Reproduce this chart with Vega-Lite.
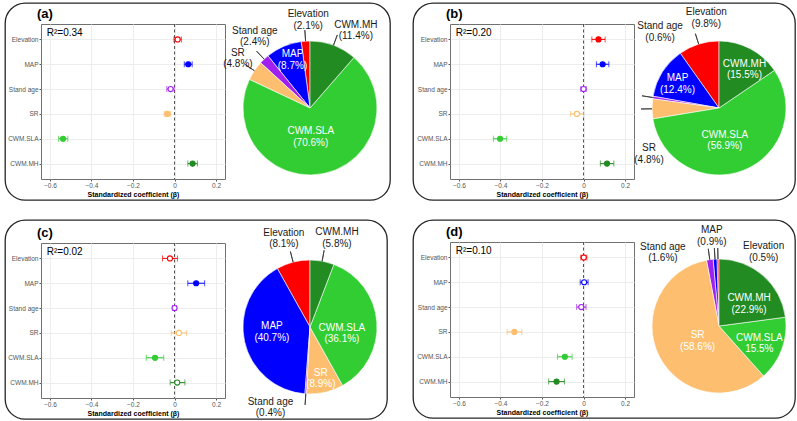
{
  "$schema": "https://vega.github.io/schema/vega-lite/v6.json",
  "padding": {"left": 4, "top": 2, "right": 0, "bottom": 0},
  "config": {"font": "Liberation Sans", "view": {"stroke": null}},
  "datasets": {
    "coef": [
      {"p": "a", "v": "Elevation", "b": 0.015, "lo": -0.003, "hi": 0.033, "sig": false, "pct": 2.1, "lab": "Elevation\n(2.1%)"},
      {"p": "a", "v": "MAP", "b": 0.066, "lo": 0.047, "hi": 0.085, "sig": true, "pct": 8.7, "lab": "MAP\n(8.7%)"},
      {"p": "a", "v": "Stand age", "b": -0.019, "lo": -0.037, "hi": -0.002, "sig": false, "pct": 2.4, "lab": "Stand age\n(2.4%)"},
      {"p": "a", "v": "SR", "b": -0.035, "lo": -0.05, "hi": -0.02, "sig": true, "pct": 4.8, "lab": "SR\n(4.8%)"},
      {"p": "a", "v": "CWM.SLA", "b": -0.537, "lo": -0.558, "hi": -0.514, "sig": true, "pct": 70.6, "lab": "CWM.SLA\n(70.6%)"},
      {"p": "a", "v": "CWM.MH", "b": 0.087, "lo": 0.064, "hi": 0.11, "sig": true, "pct": 11.4, "lab": "CWM.MH\n(11.4%)"},
      {"p": "b", "v": "Elevation", "b": 0.072, "lo": 0.04, "hi": 0.104, "sig": true, "pct": 9.8, "lab": "Elevation\n(9.8%)"},
      {"p": "b", "v": "MAP", "b": 0.092, "lo": 0.062, "hi": 0.122, "sig": true, "pct": 12.4, "lab": "MAP\n(12.4%)"},
      {"p": "b", "v": "Stand age", "b": 0.0, "lo": -0.013, "hi": 0.013, "sig": false, "pct": 0.6, "lab": "Stand age\n(0.6%)"},
      {"p": "b", "v": "SR", "b": -0.032, "lo": -0.063, "hi": 0.0, "sig": false, "pct": 4.8, "lab": "SR\n(4.8%)"},
      {"p": "b", "v": "CWM.SLA", "b": -0.402, "lo": -0.434, "hi": -0.37, "sig": true, "pct": 56.9, "lab": "CWM.SLA\n(56.9%)"},
      {"p": "b", "v": "CWM.MH", "b": 0.113, "lo": 0.081, "hi": 0.146, "sig": true, "pct": 15.5, "lab": "CWM.MH\n(15.5%)"},
      {"p": "c", "v": "Elevation", "b": -0.022, "lo": -0.058, "hi": 0.014, "sig": false, "pct": 8.1, "lab": "Elevation\n(8.1%)"},
      {"p": "c", "v": "MAP", "b": 0.104, "lo": 0.064, "hi": 0.145, "sig": true, "pct": 40.7, "lab": "MAP\n(40.7%)"},
      {"p": "c", "v": "Stand age", "b": 0.0, "lo": -0.01, "hi": 0.01, "sig": false, "pct": 0.4, "lab": "Stand age\n(0.4%)"},
      {"p": "c", "v": "SR", "b": 0.021, "lo": -0.016, "hi": 0.058, "sig": false, "pct": 8.9, "lab": "SR\n(8.9%)"},
      {"p": "c", "v": "CWM.SLA", "b": -0.094, "lo": -0.136, "hi": -0.052, "sig": true, "pct": 36.1, "lab": "CWM.SLA\n(36.1%)"},
      {"p": "c", "v": "CWM.MH", "b": 0.013, "lo": -0.021, "hi": 0.05, "sig": false, "pct": 5.8, "lab": "CWM.MH\n(5.8%)"},
      {"p": "d", "v": "Elevation", "b": 0.001, "lo": -0.013, "hi": 0.016, "sig": false, "pct": 0.5, "lab": "Elevation\n(0.5%)"},
      {"p": "d", "v": "MAP", "b": 0.003, "lo": -0.016, "hi": 0.022, "sig": false, "pct": 0.9, "lab": "MAP\n(0.9%)"},
      {"p": "d", "v": "Stand age", "b": -0.011, "lo": -0.033, "hi": 0.012, "sig": false, "pct": 1.6, "lab": "Stand age\n(1.6%)"},
      {"p": "d", "v": "SR", "b": -0.333, "lo": -0.368, "hi": -0.297, "sig": true, "pct": 58.6, "lab": "SR\n(58.6%)"},
      {"p": "d", "v": "CWM.SLA", "b": -0.09, "lo": -0.125, "hi": -0.055, "sig": true, "pct": 15.5, "lab": "CWM.SLA\n15.5%"},
      {"p": "d", "v": "CWM.MH", "b": -0.13, "lo": -0.168, "hi": -0.092, "sig": true, "pct": 22.9, "lab": "CWM.MH\n(22.9%)"}
    ],
    "ranks": [
      {"v": "CWM.MH", "k": 1}, {"v": "CWM.SLA", "k": 2}, {"v": "SR", "k": 3},
      {"v": "Stand age", "k": 4}, {"v": "MAP", "k": 5}, {"v": "Elevation", "k": 6}
    ]
  },
  "vconcat": [
    {
      "hconcat": [
        {
          "concat": [
            {"width": 385, "height": 197, "view": {"stroke": "#262626", "strokeWidth": 1.3, "cornerRadius": 20}, "data": {"values": []}, "mark": "point"},
            {
              "hconcat": [
                {"width": 35, "height": 20, "data": {"values": []}, "mark": "point"},
                {
                  "width": 184, "height": 155,
                  "view": {"stroke": "#707070", "strokeWidth": 1},
                  "title": {"text": "(a)", "anchor": "start", "frame": "group", "fontSize": 13, "fontWeight": "bold", "color": "#000000", "offset": 3, "dx": -4},
                  "layer": [
                    {"data": {"values": [{"z": 0}]}, "mark": {"type": "rule", "strokeDash": [3, 2.5], "color": "#505050", "strokeWidth": 1},
                     "encoding": {"x": {"field": "z", "type": "quantitative", "title": "Standardized coefficient (β)", "scale": {"domain": [-0.643, 0.243], "nice": false, "zero": false},
                       "axis": {"values": [-0.6, -0.5, -0.4, -0.3, -0.2, -0.1, 0, 0.1, 0.2], "labelExpr": "abs(round(datum.value * 10)) % 2 == 0 ? format(datum.value, '~g') : ''", "labelOverlap": false, "labelFlush": false, "grid": true, "gridColor": "#ebebeb", "gridWidth": {"condition": {"test": "abs(round(datum.value * 10)) % 2 == 0", "value": 0.9}, "value": 0.45}, "tickOpacity": {"condition": {"test": "abs(round(datum.value * 10)) % 2 == 0", "value": 1}, "value": 0}, "tickSize": 2, "tickColor": "#555555", "domain": false, "labelFontSize": 6.5, "labelColor": "#555555", "labelPadding": 1, "titleFontSize": 7, "titleFontWeight": "bold", "titleColor": "#000000", "titlePadding": 2}}}},
                    {"data": {"name": "coef"}, "transform": [{"filter": "datum.p == 'a'"}], "mark": {"type": "rule", "strokeWidth": 1},
                     "encoding": {"x": {"field": "lo", "type": "quantitative", "title": "Standardized coefficient (β)"}, "x2": {"field": "hi"},
                       "y": {"field": "v", "type": "nominal", "title": null, "scale": {"type": "point", "domain": ["Elevation", "MAP", "Stand age", "SR", "CWM.SLA", "CWM.MH"], "padding": 0.62},
                         "axis": {"domain": false, "tickSize": 2, "tickColor": "#555555", "labelFontSize": 6.5, "labelColor": "#555555", "labelPadding": 1, "grid": true, "gridColor": "#ebebeb", "gridWidth": 0.9}},
                       "color": {"field": "v", "type": "nominal", "legend": null, "scale": {"domain": ["Elevation", "MAP", "Stand age", "SR", "CWM.SLA", "CWM.MH"], "range": ["#FF0000", "#0000FF", "#A020F0", "#FDBF6F", "#32CD32", "#228B22"]}}}},
                    {"data": {"name": "coef"}, "transform": [{"filter": "datum.p == 'a'"}], "mark": {"type": "tick", "size": 6, "thickness": 1},
                     "encoding": {"x": {"field": "lo", "type": "quantitative", "title": "Standardized coefficient (β)"}, "y": {"field": "v", "type": "nominal", "title": null}, "color": {"field": "v", "type": "nominal", "legend": null}}},
                    {"data": {"name": "coef"}, "transform": [{"filter": "datum.p == 'a'"}], "mark": {"type": "tick", "size": 6, "thickness": 1},
                     "encoding": {"x": {"field": "hi", "type": "quantitative", "title": "Standardized coefficient (β)"}, "y": {"field": "v", "type": "nominal", "title": null}, "color": {"field": "v", "type": "nominal", "legend": null}}},
                    {"data": {"name": "coef"}, "transform": [{"filter": "datum.p == 'a'"}], "mark": {"type": "point", "shape": "circle", "size": 26, "strokeWidth": 1.1, "opacity": 1},
                     "encoding": {"x": {"field": "b", "type": "quantitative", "title": "Standardized coefficient (β)"}, "y": {"field": "v", "type": "nominal", "title": null},
                       "stroke": {"field": "v", "type": "nominal", "legend": null, "scale": {"domain": ["Elevation", "MAP", "Stand age", "SR", "CWM.SLA", "CWM.MH"], "range": ["#FF0000", "#0000FF", "#A020F0", "#FDBF6F", "#32CD32", "#228B22"]}},
                       "fill": {"condition": {"test": "datum.sig", "field": "v", "type": "nominal", "legend": null, "scale": {"domain": ["Elevation", "MAP", "Stand age", "SR", "CWM.SLA", "CWM.MH"], "range": ["#FF0000", "#0000FF", "#A020F0", "#FDBF6F", "#32CD32", "#228B22"]}}, "value": "#ffffff"}}},
                    {"data": {"values": [{"t": "R²=0.34"}]}, "mark": {"type": "text", "align": "left", "baseline": "middle", "fontSize": 10, "dy": -6, "color": "#000000"},
                     "encoding": {"x": {"datum": -0.615, "type": "quantitative"}, "y": {"datum": "Elevation", "type": "nominal"}, "text": {"field": "t", "type": "nominal"}}}
                  ]
                },
                {
                  "width": 168, "height": 168,
                  "data": {"name": "coef"},
                  "transform": [
                    {"filter": "datum.p == 'a'"},
                    {"lookup": "v", "from": {"data": {"name": "ranks"}, "key": "v", "fields": ["k"]}},
                    {"stack": "pct", "groupby": [], "sort": [{"field": "k", "order": "ascending"}], "as": ["t0", "t1"]}
                  ],
                  "layer": [
                    {"mark": {"type": "arc", "radius": 67, "stroke": "#ffffff", "strokeWidth": 0.6},
                     "encoding": {"theta": {"field": "t0", "type": "quantitative", "stack": null, "scale": {"domain": [0, 100]}}, "theta2": {"field": "t1"}, "color": {"field": "v", "type": "nominal", "legend": null}}},
                    {"transform": [{"filter": "indexof(['CWM.MH', 'Elevation', 'Stand age', 'SR'], datum.v) >= 0"}, {"fold": ["t0", "t1"], "as": ["edge", "ang"]}, {"aggregate": [{"op": "mean", "field": "ang", "as": "tm"}], "groupby": ["v"]}],
                     "mark": {"type": "arc", "innerRadius": 67, "outerRadius": 78, "filled": false, "stroke": "#333333", "strokeWidth": 0.8},
                     "encoding": {"theta": {"field": "tm", "type": "quantitative", "stack": null}, "theta2": {"field": "tm"}}},
                    {"transform": [{"filter": "datum.v == 'CWM.MH'"}, {"fold": ["t0", "t1"], "as": ["edge", "ang"]}, {"aggregate": [{"op": "mean", "field": "ang", "as": "tm"}], "groupby": ["lab"]}],
                     "mark": {"type": "text", "radius": 88, "dx": 15, "dy": -1, "fontSize": 10, "lineHeight": 11.5, "lineBreak": "\n", "color": "#1a1a1a"},
                     "encoding": {"theta": {"field": "tm", "type": "quantitative", "stack": null}, "text": {"field": "lab", "type": "nominal"}}},
                    {"transform": [{"filter": "datum.v == 'Elevation'"}, {"fold": ["t0", "t1"], "as": ["edge", "ang"]}, {"aggregate": [{"op": "mean", "field": "ang", "as": "tm"}], "groupby": ["lab"]}],
                     "mark": {"type": "text", "radius": 88, "dx": 4, "dy": -6, "fontSize": 10, "lineHeight": 11.5, "lineBreak": "\n", "color": "#1a1a1a"},
                     "encoding": {"theta": {"field": "tm", "type": "quantitative", "stack": null}, "text": {"field": "lab", "type": "nominal"}}},
                    {"transform": [{"filter": "datum.v == 'Stand age'"}, {"fold": ["t0", "t1"], "as": ["edge", "ang"]}, {"aggregate": [{"op": "mean", "field": "ang", "as": "tm"}], "groupby": ["lab"]}],
                     "mark": {"type": "text", "radius": 88, "dx": 5, "dy": -13, "fontSize": 10, "lineHeight": 11.5, "lineBreak": "\n", "color": "#1a1a1a"},
                     "encoding": {"theta": {"field": "tm", "type": "quantitative", "stack": null}, "text": {"field": "lab", "type": "nominal"}}},
                    {"transform": [{"filter": "datum.v == 'SR'"}, {"fold": ["t0", "t1"], "as": ["edge", "ang"]}, {"aggregate": [{"op": "mean", "field": "ang", "as": "tm"}], "groupby": ["lab"]}],
                     "mark": {"type": "text", "radius": 88, "dx": 1, "dy": -6, "fontSize": 10, "lineHeight": 11.5, "lineBreak": "\n", "color": "#1a1a1a"},
                     "encoding": {"theta": {"field": "tm", "type": "quantitative", "stack": null}, "text": {"field": "lab", "type": "nominal"}}},
                    {"transform": [{"filter": "datum.v == 'MAP'"}, {"fold": ["t0", "t1"], "as": ["edge", "ang"]}, {"aggregate": [{"op": "mean", "field": "ang", "as": "tm"}], "groupby": ["lab"]}],
                     "mark": {"type": "text", "radius": 52, "dx": 3, "dy": -6, "fontSize": 10, "lineHeight": 11.5, "lineBreak": "\n", "color": "#ffffff"},
                     "encoding": {"theta": {"field": "tm", "type": "quantitative", "stack": null}, "text": {"field": "lab", "type": "nominal"}}},
                    {"transform": [{"filter": "datum.v == 'CWM.SLA'"}, {"fold": ["t0", "t1"], "as": ["edge", "ang"]}, {"aggregate": [{"op": "mean", "field": "ang", "as": "tm"}], "groupby": ["lab"]}],
                     "mark": {"type": "text", "radius": 28, "dx": -5, "dy": -4, "fontSize": 10, "lineHeight": 11.5, "lineBreak": "\n", "color": "#ffffff"},
                     "encoding": {"theta": {"field": "tm", "type": "quantitative", "stack": null}, "text": {"field": "lab", "type": "nominal"}}}
                  ]
                }
              ],
              "spacing": 1, "bounds": "flush"
            }
          ],
          "columns": 1, "align": "none", "spacing": -176, "bounds": "flush"
        },
        {
          "concat": [
            {"width": 382, "height": 197, "view": {"stroke": "#262626", "strokeWidth": 1.3, "cornerRadius": 20}, "data": {"values": []}, "mark": "point"},
            {
              "hconcat": [
                {"width": 36, "height": 20, "data": {"values": []}, "mark": "point"},
                {
                  "width": 184, "height": 155,
                  "view": {"stroke": "#707070", "strokeWidth": 1},
                  "title": {"text": "(b)", "anchor": "start", "frame": "group", "fontSize": 13, "fontWeight": "bold", "color": "#000000", "offset": 3, "dx": -4},
                  "layer": [
                    {"data": {"values": [{"z": 0}]}, "mark": {"type": "rule", "strokeDash": [3, 2.5], "color": "#505050", "strokeWidth": 1},
                     "encoding": {"x": {"field": "z", "type": "quantitative", "title": "Standardized coefficient (β)", "scale": {"domain": [-0.643, 0.243], "nice": false, "zero": false},
                       "axis": {"values": [-0.6, -0.5, -0.4, -0.3, -0.2, -0.1, 0, 0.1, 0.2], "labelExpr": "abs(round(datum.value * 10)) % 2 == 0 ? format(datum.value, '~g') : ''", "labelOverlap": false, "labelFlush": false, "grid": true, "gridColor": "#ebebeb", "gridWidth": {"condition": {"test": "abs(round(datum.value * 10)) % 2 == 0", "value": 0.9}, "value": 0.45}, "tickOpacity": {"condition": {"test": "abs(round(datum.value * 10)) % 2 == 0", "value": 1}, "value": 0}, "tickSize": 2, "tickColor": "#555555", "domain": false, "labelFontSize": 6.5, "labelColor": "#555555", "labelPadding": 1, "titleFontSize": 7, "titleFontWeight": "bold", "titleColor": "#000000", "titlePadding": 2}}}},
                    {"data": {"name": "coef"}, "transform": [{"filter": "datum.p == 'b'"}], "mark": {"type": "rule", "strokeWidth": 1},
                     "encoding": {"x": {"field": "lo", "type": "quantitative", "title": "Standardized coefficient (β)"}, "x2": {"field": "hi"},
                       "y": {"field": "v", "type": "nominal", "title": null, "scale": {"type": "point", "domain": ["Elevation", "MAP", "Stand age", "SR", "CWM.SLA", "CWM.MH"], "padding": 0.62},
                         "axis": {"domain": false, "tickSize": 2, "tickColor": "#555555", "labelFontSize": 6.5, "labelColor": "#555555", "labelPadding": 1, "grid": true, "gridColor": "#ebebeb", "gridWidth": 0.9}},
                       "color": {"field": "v", "type": "nominal", "legend": null}}},
                    {"data": {"name": "coef"}, "transform": [{"filter": "datum.p == 'b'"}], "mark": {"type": "tick", "size": 6, "thickness": 1},
                     "encoding": {"x": {"field": "lo", "type": "quantitative", "title": "Standardized coefficient (β)"}, "y": {"field": "v", "type": "nominal", "title": null}, "color": {"field": "v", "type": "nominal", "legend": null}}},
                    {"data": {"name": "coef"}, "transform": [{"filter": "datum.p == 'b'"}], "mark": {"type": "tick", "size": 6, "thickness": 1},
                     "encoding": {"x": {"field": "hi", "type": "quantitative", "title": "Standardized coefficient (β)"}, "y": {"field": "v", "type": "nominal", "title": null}, "color": {"field": "v", "type": "nominal", "legend": null}}},
                    {"data": {"name": "coef"}, "transform": [{"filter": "datum.p == 'b'"}], "mark": {"type": "point", "shape": "circle", "size": 26, "strokeWidth": 1.1, "opacity": 1},
                     "encoding": {"x": {"field": "b", "type": "quantitative", "title": "Standardized coefficient (β)"}, "y": {"field": "v", "type": "nominal", "title": null},
                       "stroke": {"field": "v", "type": "nominal", "legend": null},
                       "fill": {"condition": {"test": "datum.sig", "field": "v", "type": "nominal", "legend": null}, "value": "#ffffff"}}},
                    {"data": {"values": [{"t": "R²=0.20"}]}, "mark": {"type": "text", "align": "left", "baseline": "middle", "fontSize": 10, "dy": -6, "color": "#000000"},
                     "encoding": {"x": {"datum": -0.615, "type": "quantitative"}, "y": {"datum": "Elevation", "type": "nominal"}, "text": {"field": "t", "type": "nominal"}}}
                  ]
                },
                {
                  "width": 168, "height": 168,
                  "data": {"name": "coef"},
                  "transform": [
                    {"filter": "datum.p == 'b'"},
                    {"lookup": "v", "from": {"data": {"name": "ranks"}, "key": "v", "fields": ["k"]}},
                    {"stack": "pct", "groupby": [], "sort": [{"field": "k", "order": "ascending"}], "as": ["t0", "t1"]}
                  ],
                  "layer": [
                    {"mark": {"type": "arc", "radius": 67, "stroke": "#ffffff", "strokeWidth": 0.6},
                     "encoding": {"theta": {"field": "t0", "type": "quantitative", "stack": null, "scale": {"domain": [0, 100]}}, "theta2": {"field": "t1"}, "color": {"field": "v", "type": "nominal", "legend": null}}},
                    {"transform": [{"filter": "indexof(['Elevation', 'Stand age', 'SR'], datum.v) >= 0"}, {"fold": ["t0", "t1"], "as": ["edge", "ang"]}, {"aggregate": [{"op": "mean", "field": "ang", "as": "tm"}], "groupby": ["v"]}],
                     "mark": {"type": "arc", "innerRadius": 67, "outerRadius": 78, "filled": false, "stroke": "#333333", "strokeWidth": 0.8},
                     "encoding": {"theta": {"field": "tm", "type": "quantitative", "stack": null}, "theta2": {"field": "tm"}}},
                    {"transform": [{"filter": "datum.v == 'Elevation'"}, {"fold": ["t0", "t1"], "as": ["edge", "ang"]}, {"aggregate": [{"op": "mean", "field": "ang", "as": "tm"}], "groupby": ["lab"]}],
                     "mark": {"type": "text", "radius": 88, "dx": 14, "dy": -12, "fontSize": 10, "lineHeight": 11.5, "lineBreak": "\n", "color": "#1a1a1a"},
                     "encoding": {"theta": {"field": "tm", "type": "quantitative", "stack": null}, "text": {"field": "lab", "type": "nominal"}}},
                    {"transform": [{"filter": "datum.v == 'Stand age'"}, {"fold": ["t0", "t1"], "as": ["edge", "ang"]}, {"aggregate": [{"op": "mean", "field": "ang", "as": "tm"}], "groupby": ["lab"]}],
                     "mark": {"type": "text", "radius": 88, "dx": 28, "dy": -68, "fontSize": 10, "lineHeight": 11.5, "lineBreak": "\n", "color": "#1a1a1a"},
                     "encoding": {"theta": {"field": "tm", "type": "quantitative", "stack": null}, "text": {"field": "lab", "type": "nominal"}}},
                    {"transform": [{"filter": "datum.v == 'SR'"}, {"fold": ["t0", "t1"], "as": ["edge", "ang"]}, {"aggregate": [{"op": "mean", "field": "ang", "as": "tm"}], "groupby": ["lab"]}],
                     "mark": {"type": "text", "radius": 88, "dx": 18, "dy": 39, "fontSize": 10, "lineHeight": 11.5, "lineBreak": "\n", "color": "#1a1a1a"},
                     "encoding": {"theta": {"field": "tm", "type": "quantitative", "stack": null}, "text": {"field": "lab", "type": "nominal"}}},
                    {"transform": [{"filter": "datum.v == 'MAP'"}, {"fold": ["t0", "t1"], "as": ["edge", "ang"]}, {"aggregate": [{"op": "mean", "field": "ang", "as": "tm"}], "groupby": ["lab"]}],
                     "mark": {"type": "text", "radius": 48, "dx": -1, "dy": -4, "fontSize": 10, "lineHeight": 11.5, "lineBreak": "\n", "color": "#ffffff"},
                     "encoding": {"theta": {"field": "tm", "type": "quantitative", "stack": null}, "text": {"field": "lab", "type": "nominal"}}},
                    {"transform": [{"filter": "datum.v == 'CWM.MH'"}, {"fold": ["t0", "t1"], "as": ["edge", "ang"]}, {"aggregate": [{"op": "mean", "field": "ang", "as": "tm"}], "groupby": ["lab"]}],
                     "mark": {"type": "text", "radius": 48, "dx": 3, "dy": -2, "fontSize": 10, "lineHeight": 11.5, "lineBreak": "\n", "color": "#ffffff"},
                     "encoding": {"theta": {"field": "tm", "type": "quantitative", "stack": null}, "text": {"field": "lab", "type": "nominal"}}},
                    {"transform": [{"filter": "datum.v == 'CWM.SLA'"}, {"fold": ["t0", "t1"], "as": ["edge", "ang"]}, {"aggregate": [{"op": "mean", "field": "ang", "as": "tm"}], "groupby": ["lab"]}],
                     "mark": {"type": "text", "radius": 32, "dx": -6, "dy": -3, "fontSize": 10, "lineHeight": 11.5, "lineBreak": "\n", "color": "#ffffff"},
                     "encoding": {"theta": {"field": "tm", "type": "quantitative", "stack": null}, "text": {"field": "lab", "type": "nominal"}}}
                  ]
                }
              ],
              "spacing": 1, "bounds": "flush"
            }
          ],
          "columns": 1, "align": "none", "spacing": -176, "bounds": "flush"
        }
      ],
      "spacing": 18
    },
    {
      "hconcat": [
        {
          "concat": [
            {"width": 382, "height": 199, "view": {"stroke": "#262626", "strokeWidth": 1.3, "cornerRadius": 20}, "data": {"values": []}, "mark": "point"},
            {
              "hconcat": [
                {"width": 35, "height": 20, "data": {"values": []}, "mark": "point"},
                {
                  "width": 184, "height": 155,
                  "view": {"stroke": "#707070", "strokeWidth": 1},
                  "title": {"text": "(c)", "anchor": "start", "frame": "group", "fontSize": 13, "fontWeight": "bold", "color": "#000000", "offset": 3, "dx": -4},
                  "layer": [
                    {"data": {"values": [{"z": 0}]}, "mark": {"type": "rule", "strokeDash": [3, 2.5], "color": "#505050", "strokeWidth": 1},
                     "encoding": {"x": {"field": "z", "type": "quantitative", "title": "Standardized coefficient (β)", "scale": {"domain": [-0.643, 0.243], "nice": false, "zero": false},
                       "axis": {"values": [-0.6, -0.5, -0.4, -0.3, -0.2, -0.1, 0, 0.1, 0.2], "labelExpr": "abs(round(datum.value * 10)) % 2 == 0 ? format(datum.value, '~g') : ''", "labelOverlap": false, "labelFlush": false, "grid": true, "gridColor": "#ebebeb", "gridWidth": {"condition": {"test": "abs(round(datum.value * 10)) % 2 == 0", "value": 0.9}, "value": 0.45}, "tickOpacity": {"condition": {"test": "abs(round(datum.value * 10)) % 2 == 0", "value": 1}, "value": 0}, "tickSize": 2, "tickColor": "#555555", "domain": false, "labelFontSize": 6.5, "labelColor": "#555555", "labelPadding": 1, "titleFontSize": 7, "titleFontWeight": "bold", "titleColor": "#000000", "titlePadding": 2}}}},
                    {"data": {"name": "coef"}, "transform": [{"filter": "datum.p == 'c'"}], "mark": {"type": "rule", "strokeWidth": 1},
                     "encoding": {"x": {"field": "lo", "type": "quantitative", "title": "Standardized coefficient (β)"}, "x2": {"field": "hi"},
                       "y": {"field": "v", "type": "nominal", "title": null, "scale": {"type": "point", "domain": ["Elevation", "MAP", "Stand age", "SR", "CWM.SLA", "CWM.MH"], "padding": 0.62},
                         "axis": {"domain": false, "tickSize": 2, "tickColor": "#555555", "labelFontSize": 6.5, "labelColor": "#555555", "labelPadding": 1, "grid": true, "gridColor": "#ebebeb", "gridWidth": 0.9}},
                       "color": {"field": "v", "type": "nominal", "legend": null}}},
                    {"data": {"name": "coef"}, "transform": [{"filter": "datum.p == 'c'"}], "mark": {"type": "tick", "size": 6, "thickness": 1},
                     "encoding": {"x": {"field": "lo", "type": "quantitative", "title": "Standardized coefficient (β)"}, "y": {"field": "v", "type": "nominal", "title": null}, "color": {"field": "v", "type": "nominal", "legend": null}}},
                    {"data": {"name": "coef"}, "transform": [{"filter": "datum.p == 'c'"}], "mark": {"type": "tick", "size": 6, "thickness": 1},
                     "encoding": {"x": {"field": "hi", "type": "quantitative", "title": "Standardized coefficient (β)"}, "y": {"field": "v", "type": "nominal", "title": null}, "color": {"field": "v", "type": "nominal", "legend": null}}},
                    {"data": {"name": "coef"}, "transform": [{"filter": "datum.p == 'c'"}], "mark": {"type": "point", "shape": "circle", "size": 26, "strokeWidth": 1.1, "opacity": 1},
                     "encoding": {"x": {"field": "b", "type": "quantitative", "title": "Standardized coefficient (β)"}, "y": {"field": "v", "type": "nominal", "title": null},
                       "stroke": {"field": "v", "type": "nominal", "legend": null},
                       "fill": {"condition": {"test": "datum.sig", "field": "v", "type": "nominal", "legend": null}, "value": "#ffffff"}}},
                    {"data": {"values": [{"t": "R²=0.02"}]}, "mark": {"type": "text", "align": "left", "baseline": "middle", "fontSize": 10, "dy": -6, "color": "#000000"},
                     "encoding": {"x": {"datum": -0.615, "type": "quantitative"}, "y": {"datum": "Elevation", "type": "nominal"}, "text": {"field": "t", "type": "nominal"}}}
                  ]
                },
                {
                  "width": 168, "height": 168,
                  "data": {"name": "coef"},
                  "transform": [
                    {"filter": "datum.p == 'c'"},
                    {"lookup": "v", "from": {"data": {"name": "ranks"}, "key": "v", "fields": ["k"]}},
                    {"stack": "pct", "groupby": [], "sort": [{"field": "k", "order": "ascending"}], "as": ["t0", "t1"]}
                  ],
                  "layer": [
                    {"mark": {"type": "arc", "radius": 67, "stroke": "#ffffff", "strokeWidth": 0.6},
                     "encoding": {"theta": {"field": "t0", "type": "quantitative", "stack": null, "scale": {"domain": [0, 100]}}, "theta2": {"field": "t1"}, "color": {"field": "v", "type": "nominal", "legend": null}}},
                    {"transform": [{"filter": "indexof(['CWM.MH', 'Elevation', 'Stand age'], datum.v) >= 0"}, {"fold": ["t0", "t1"], "as": ["edge", "ang"]}, {"aggregate": [{"op": "mean", "field": "ang", "as": "tm"}], "groupby": ["v"]}],
                     "mark": {"type": "arc", "innerRadius": 67, "outerRadius": 78, "filled": false, "stroke": "#333333", "strokeWidth": 0.8},
                     "encoding": {"theta": {"field": "tm", "type": "quantitative", "stack": null}, "theta2": {"field": "tm"}}},
                    {"transform": [{"filter": "datum.v == 'CWM.MH'"}, {"fold": ["t0", "t1"], "as": ["edge", "ang"]}, {"aggregate": [{"op": "mean", "field": "ang", "as": "tm"}], "groupby": ["lab"]}],
                     "mark": {"type": "text", "radius": 88, "dx": 11, "dy": -8, "fontSize": 10, "lineHeight": 11.5, "lineBreak": "\n", "color": "#1a1a1a"},
                     "encoding": {"theta": {"field": "tm", "type": "quantitative", "stack": null}, "text": {"field": "lab", "type": "nominal"}}},
                    {"transform": [{"filter": "datum.v == 'Elevation'"}, {"fold": ["t0", "t1"], "as": ["edge", "ang"]}, {"aggregate": [{"op": "mean", "field": "ang", "as": "tm"}], "groupby": ["lab"]}],
                     "mark": {"type": "text", "radius": 88, "dx": -4, "dy": -9, "fontSize": 10, "lineHeight": 11.5, "lineBreak": "\n", "color": "#1a1a1a"},
                     "encoding": {"theta": {"field": "tm", "type": "quantitative", "stack": null}, "text": {"field": "lab", "type": "nominal"}}},
                    {"transform": [{"filter": "datum.v == 'Stand age'"}, {"fold": ["t0", "t1"], "as": ["edge", "ang"]}, {"aggregate": [{"op": "mean", "field": "ang", "as": "tm"}], "groupby": ["lab"]}],
                     "mark": {"type": "text", "radius": 88, "dx": -34, "dy": -13, "fontSize": 10, "lineHeight": 11.5, "lineBreak": "\n", "color": "#1a1a1a"},
                     "encoding": {"theta": {"field": "tm", "type": "quantitative", "stack": null}, "text": {"field": "lab", "type": "nominal"}}},
                    {"transform": [{"filter": "datum.v == 'MAP'"}, {"fold": ["t0", "t1"], "as": ["edge", "ang"]}, {"aggregate": [{"op": "mean", "field": "ang", "as": "tm"}], "groupby": ["lab"]}],
                     "mark": {"type": "text", "radius": 38, "dx": -1, "dy": -9, "fontSize": 10, "lineHeight": 11.5, "lineBreak": "\n", "color": "#ffffff"},
                     "encoding": {"theta": {"field": "tm", "type": "quantitative", "stack": null}, "text": {"field": "lab", "type": "nominal"}}},
                    {"transform": [{"filter": "datum.v == 'CWM.SLA'"}, {"fold": ["t0", "t1"], "as": ["edge", "ang"]}, {"aggregate": [{"op": "mean", "field": "ang", "as": "tm"}], "groupby": ["lab"]}],
                     "mark": {"type": "text", "radius": 33, "dx": -1, "dy": 3, "fontSize": 10, "lineHeight": 11.5, "lineBreak": "\n", "color": "#ffffff"},
                     "encoding": {"theta": {"field": "tm", "type": "quantitative", "stack": null}, "text": {"field": "lab", "type": "nominal"}}},
                    {"transform": [{"filter": "datum.v == 'SR'"}, {"fold": ["t0", "t1"], "as": ["edge", "ang"]}, {"aggregate": [{"op": "mean", "field": "ang", "as": "tm"}], "groupby": ["lab"]}],
                     "mark": {"type": "text", "radius": 52, "dx": -1, "dy": -5, "fontSize": 10, "lineHeight": 11.5, "lineBreak": "\n", "color": "#ffffff"},
                     "encoding": {"theta": {"field": "tm", "type": "quantitative", "stack": null}, "text": {"field": "lab", "type": "nominal"}}}
                  ]
                }
              ],
              "spacing": 1, "bounds": "flush"
            }
          ],
          "columns": 1, "align": "none", "spacing": -176, "bounds": "flush"
        },
        {
          "concat": [
            {"width": 382, "height": 198, "view": {"stroke": "#262626", "strokeWidth": 1.3, "cornerRadius": 20}, "data": {"values": []}, "mark": "point"},
            {
              "hconcat": [
                {"width": 36, "height": 20, "data": {"values": []}, "mark": "point"},
                {
                  "width": 184, "height": 155,
                  "view": {"stroke": "#707070", "strokeWidth": 1},
                  "title": {"text": "(d)", "anchor": "start", "frame": "group", "fontSize": 13, "fontWeight": "bold", "color": "#000000", "offset": 3, "dx": -4},
                  "layer": [
                    {"data": {"values": [{"z": 0}]}, "mark": {"type": "rule", "strokeDash": [3, 2.5], "color": "#505050", "strokeWidth": 1},
                     "encoding": {"x": {"field": "z", "type": "quantitative", "title": "Standardized coefficient (β)", "scale": {"domain": [-0.643, 0.243], "nice": false, "zero": false},
                       "axis": {"values": [-0.6, -0.5, -0.4, -0.3, -0.2, -0.1, 0, 0.1, 0.2], "labelExpr": "abs(round(datum.value * 10)) % 2 == 0 ? format(datum.value, '~g') : ''", "labelOverlap": false, "labelFlush": false, "grid": true, "gridColor": "#ebebeb", "gridWidth": {"condition": {"test": "abs(round(datum.value * 10)) % 2 == 0", "value": 0.9}, "value": 0.45}, "tickOpacity": {"condition": {"test": "abs(round(datum.value * 10)) % 2 == 0", "value": 1}, "value": 0}, "tickSize": 2, "tickColor": "#555555", "domain": false, "labelFontSize": 6.5, "labelColor": "#555555", "labelPadding": 1, "titleFontSize": 7, "titleFontWeight": "bold", "titleColor": "#000000", "titlePadding": 2}}}},
                    {"data": {"name": "coef"}, "transform": [{"filter": "datum.p == 'd'"}], "mark": {"type": "rule", "strokeWidth": 1},
                     "encoding": {"x": {"field": "lo", "type": "quantitative", "title": "Standardized coefficient (β)"}, "x2": {"field": "hi"},
                       "y": {"field": "v", "type": "nominal", "title": null, "scale": {"type": "point", "domain": ["Elevation", "MAP", "Stand age", "SR", "CWM.SLA", "CWM.MH"], "padding": 0.62},
                         "axis": {"domain": false, "tickSize": 2, "tickColor": "#555555", "labelFontSize": 6.5, "labelColor": "#555555", "labelPadding": 1, "grid": true, "gridColor": "#ebebeb", "gridWidth": 0.9}},
                       "color": {"field": "v", "type": "nominal", "legend": null}}},
                    {"data": {"name": "coef"}, "transform": [{"filter": "datum.p == 'd'"}], "mark": {"type": "tick", "size": 6, "thickness": 1},
                     "encoding": {"x": {"field": "lo", "type": "quantitative", "title": "Standardized coefficient (β)"}, "y": {"field": "v", "type": "nominal", "title": null}, "color": {"field": "v", "type": "nominal", "legend": null}}},
                    {"data": {"name": "coef"}, "transform": [{"filter": "datum.p == 'd'"}], "mark": {"type": "tick", "size": 6, "thickness": 1},
                     "encoding": {"x": {"field": "hi", "type": "quantitative", "title": "Standardized coefficient (β)"}, "y": {"field": "v", "type": "nominal", "title": null}, "color": {"field": "v", "type": "nominal", "legend": null}}},
                    {"data": {"name": "coef"}, "transform": [{"filter": "datum.p == 'd'"}], "mark": {"type": "point", "shape": "circle", "size": 26, "strokeWidth": 1.1, "opacity": 1},
                     "encoding": {"x": {"field": "b", "type": "quantitative", "title": "Standardized coefficient (β)"}, "y": {"field": "v", "type": "nominal", "title": null},
                       "stroke": {"field": "v", "type": "nominal", "legend": null},
                       "fill": {"condition": {"test": "datum.sig", "field": "v", "type": "nominal", "legend": null}, "value": "#ffffff"}}},
                    {"data": {"values": [{"t": "R²=0.10"}]}, "mark": {"type": "text", "align": "left", "baseline": "middle", "fontSize": 10, "dy": -6, "color": "#000000"},
                     "encoding": {"x": {"datum": -0.615, "type": "quantitative"}, "y": {"datum": "Elevation", "type": "nominal"}, "text": {"field": "t", "type": "nominal"}}}
                  ]
                },
                {
                  "width": 168, "height": 168,
                  "data": {"name": "coef"},
                  "transform": [
                    {"filter": "datum.p == 'd'"},
                    {"lookup": "v", "from": {"data": {"name": "ranks"}, "key": "v", "fields": ["k"]}},
                    {"stack": "pct", "groupby": [], "sort": [{"field": "k", "order": "ascending"}], "as": ["t0", "t1"]}
                  ],
                  "layer": [
                    {"mark": {"type": "arc", "radius": 67, "stroke": "#ffffff", "strokeWidth": 0.6},
                     "encoding": {"theta": {"field": "t0", "type": "quantitative", "stack": null, "scale": {"domain": [0, 100]}}, "theta2": {"field": "t1"}, "color": {"field": "v", "type": "nominal", "legend": null}}},
                    {"transform": [{"filter": "indexof(['MAP', 'Elevation', 'Stand age'], datum.v) >= 0"}, {"fold": ["t0", "t1"], "as": ["edge", "ang"]}, {"aggregate": [{"op": "mean", "field": "ang", "as": "tm"}], "groupby": ["v"]}],
                     "mark": {"type": "arc", "innerRadius": 67, "outerRadius": 78, "filled": false, "stroke": "#333333", "strokeWidth": 0.8},
                     "encoding": {"theta": {"field": "tm", "type": "quantitative", "stack": null}, "theta2": {"field": "tm"}}},
                    {"transform": [{"filter": "datum.v == 'MAP'"}, {"fold": ["t0", "t1"], "as": ["edge", "ang"]}, {"aggregate": [{"op": "mean", "field": "ang", "as": "tm"}], "groupby": ["lab"]}],
                     "mark": {"type": "text", "radius": 88, "dx": -2, "dy": -8, "fontSize": 10, "lineHeight": 11.5, "lineBreak": "\n", "color": "#1a1a1a"},
                     "encoding": {"theta": {"field": "tm", "type": "quantitative", "stack": null}, "text": {"field": "lab", "type": "nominal"}}},
                    {"transform": [{"filter": "datum.v == 'Stand age'"}, {"fold": ["t0", "t1"], "as": ["edge", "ang"]}, {"aggregate": [{"op": "mean", "field": "ang", "as": "tm"}], "groupby": ["lab"]}],
                     "mark": {"type": "text", "radius": 88, "dx": -44, "dy": 8, "fontSize": 10, "lineHeight": 11.5, "lineBreak": "\n", "color": "#1a1a1a"},
                     "encoding": {"theta": {"field": "tm", "type": "quantitative", "stack": null}, "text": {"field": "lab", "type": "nominal"}}},
                    {"transform": [{"filter": "datum.v == 'Elevation'"}, {"fold": ["t0", "t1"], "as": ["edge", "ang"]}, {"aggregate": [{"op": "mean", "field": "ang", "as": "tm"}], "groupby": ["lab"]}],
                     "mark": {"type": "text", "radius": 88, "dx": 46, "dy": 8, "fontSize": 10, "lineHeight": 11.5, "lineBreak": "\n", "color": "#1a1a1a"},
                     "encoding": {"theta": {"field": "tm", "type": "quantitative", "stack": null}, "text": {"field": "lab", "type": "nominal"}}},
                    {"transform": [{"filter": "datum.v == 'CWM.MH'"}, {"fold": ["t0", "t1"], "as": ["edge", "ang"]}, {"aggregate": [{"op": "mean", "field": "ang", "as": "tm"}], "groupby": ["lab"]}],
                     "mark": {"type": "text", "radius": 38, "dx": 5, "dy": 1, "fontSize": 10, "lineHeight": 11.5, "lineBreak": "\n", "color": "#ffffff"},
                     "encoding": {"theta": {"field": "tm", "type": "quantitative", "stack": null}, "text": {"field": "lab", "type": "nominal"}}},
                    {"transform": [{"filter": "datum.v == 'CWM.SLA'"}, {"fold": ["t0", "t1"], "as": ["edge", "ang"]}, {"aggregate": [{"op": "mean", "field": "ang", "as": "tm"}], "groupby": ["lab"]}],
                     "mark": {"type": "text", "radius": 43, "dx": 0, "dy": -3, "fontSize": 10, "lineHeight": 11.5, "lineBreak": "\n", "color": "#ffffff"},
                     "encoding": {"theta": {"field": "tm", "type": "quantitative", "stack": null}, "text": {"field": "lab", "type": "nominal"}}},
                    {"transform": [{"filter": "datum.v == 'SR'"}, {"fold": ["t0", "t1"], "as": ["edge", "ang"]}, {"aggregate": [{"op": "mean", "field": "ang", "as": "tm"}], "groupby": ["lab"]}],
                     "mark": {"type": "text", "radius": 25, "dx": 1, "dy": -2, "fontSize": 10, "lineHeight": 11.5, "lineBreak": "\n", "color": "#ffffff"},
                     "encoding": {"theta": {"field": "tm", "type": "quantitative", "stack": null}, "text": {"field": "lab", "type": "nominal"}}}
                  ]
                }
              ],
              "spacing": 1, "bounds": "flush"
            }
          ],
          "columns": 1, "align": "none", "spacing": -176, "bounds": "flush"
        }
      ],
      "spacing": 18
    }
  ],
  "spacing": 18
}
